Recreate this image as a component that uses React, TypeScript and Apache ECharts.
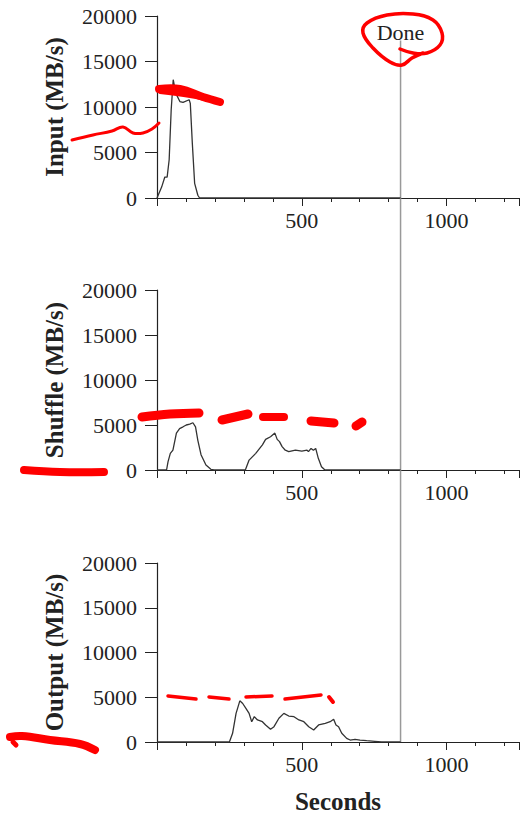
import React, { useEffect, useRef } from "react";
import * as echarts from "echarts";

const X_MAX = 1250;
const X_MINOR_STEP = 100;
const X_MAJOR_STEP = 500;
const X_LABELS = [500, 1000];
const Y_MAX = 20000;
const Y_STEP = 5000;
const DONE_TIME = 841;
const DONE_LABEL = "Done";
const PANEL_NAMES = ["Input (MB/s)", "Shuffle (MB/s)", "Output (MB/s)"];
const X_NAME = "Seconds";

const INPUT_T = [0, 16, 27, 35, 42, 49, 56, 65, 79, 90, 111, 115, 122, 130, 141, 147, 841];
const INPUT_V = [0, 1200, 2300, 2300, 4200, 9700, 13000, 11500, 10600, 10500, 10800, 10400, 6000, 1600, 300, 0, 0];

const SHUFFLE_T = [0, 33, 38, 46, 55, 67, 78, 90, 101, 113, 124, 133, 141, 152, 169, 186, 197, 305, 318, 341, 364, 375, 392, 407, 415, 423, 432, 443, 455, 478, 500, 518, 523, 532, 540, 548, 557, 568, 580, 841];
const SHUFFLE_V = [0, 0, 900, 1850, 2200, 4100, 4600, 4800, 5000, 5100, 5250, 4800, 3300, 1700, 550, 80, 0, 0, 1100, 1850, 2800, 3400, 3700, 4100, 3400, 3150, 2600, 2200, 2050, 2200, 2100, 2200, 2050, 2400, 2200, 2400, 1300, 370, 0, 0];

const OUTPUT_T = [0, 250, 261, 273, 286, 296, 307, 318, 327, 336, 347, 364, 375, 392, 404, 421, 438, 455, 473, 490, 507, 524, 541, 558, 581, 598, 610, 618, 627, 638, 655, 667, 684, 701, 724, 752, 775, 841];
const OUTPUT_V = [0, 0, 970, 3200, 4600, 4300, 3760, 3200, 2270, 2830, 2460, 2270, 1900, 1420, 1710, 2650, 3200, 2900, 2830, 2460, 2270, 1710, 1340, 1900, 2090, 2270, 2540, 1900, 1710, 970, 410, 220, 300, 220, 150, 80, 0, 0];

const SERIES_T = [INPUT_T, SHUFFLE_T, OUTPUT_T];
const SERIES_V = [INPUT_V, SHUFFLE_V, OUTPUT_V];

const FONT = "'Liberation Serif', 'DejaVu Serif', serif";
const INK = "#222";
const RED = "#f00";

const GRIDS = [
  { left: 157, right: 0, top: 16, height: 182 },
  { left: 157, right: 0, top: 290, height: 180 },
  { left: 157, right: 0, top: 563, height: 179 },
];

export default function App() {
  const ref = useRef<HTMLDivElement>(null);
  useEffect(() => {
    document.body.style.margin = "0";
    const chart = echarts.init(ref.current!, null, { renderer: "svg" });
    const xAxes: any[] = [];
    const yAxes: any[] = [];
    const series: any[] = [];
    GRIDS.forEach((_, i) => {
      xAxes.push({
        gridIndex: i,
        type: "value",
        min: 0,
        max: X_MAX,
        interval: X_MINOR_STEP,
        axisLine: { show: true, onZero: false, lineStyle: { color: INK, width: 1.2 } },
        axisTick: { show: true, length: 4, lineStyle: { color: INK, width: 1 } },
        axisLabel: {
          formatter: (v: number) => (X_LABELS.includes(v) ? String(v) : ""),
          fontFamily: FONT,
          fontSize: 22,
          color: INK,
          margin: 11,
        },
        splitLine: { show: false },
        name: i === 2 ? X_NAME : "",
        nameLocation: "middle",
        nameGap: 47,
        nameTextStyle: { fontFamily: FONT, fontSize: 25, fontWeight: "bold", color: INK },
      });
      xAxes.push({
        gridIndex: i,
        type: "value",
        position: "bottom",
        min: 0,
        max: X_MAX,
        interval: X_MAJOR_STEP,
        axisLine: { show: false },
        axisTick: { show: true, length: 8, lineStyle: { color: INK, width: 1 } },
        axisLabel: { show: false },
        splitLine: { show: false },
      });
      yAxes.push({
        gridIndex: i,
        type: "value",
        min: 0,
        max: Y_MAX,
        interval: Y_STEP,
        axisLine: { show: true, lineStyle: { color: INK, width: 1.2 } },
        axisTick: { show: true, length: 12, lineStyle: { color: INK, width: 1 } },
        axisLabel: {
          formatter: (v: number) => String(v),
          fontFamily: FONT,
          fontSize: 22,
          color: INK,
          margin: 20,
        },
        splitLine: { show: false },
        name: PANEL_NAMES[i],
        nameLocation: "middle",
        nameGap: 90,
        nameTextStyle: { fontFamily: FONT, fontSize: 25, fontWeight: "bold", color: INK },
      });
      series.push({
        type: "line",
        xAxisIndex: i * 2,
        yAxisIndex: i,
        data: SERIES_T[i].map((t, k) => [t, SERIES_V[i][k]]),
        showSymbol: false,
        symbol: "none",
        lineStyle: { color: "#333", width: 1.3 },
        z: 3,
      });
    });
    chart.setOption({
      animation: false,
      backgroundColor: "#fff",
      grid: GRIDS,
      xAxis: xAxes,
      yAxis: yAxes,
      series,
    });

    const doneX = chart.convertToPixel({ xAxisIndex: 0 }, DONE_TIME) as number;
    const lineTop = chart.convertToPixel({ yAxisIndex: 0 }, 17300) as number;
    const textY = chart.convertToPixel({ yAxisIndex: 0 }, 18200) as number;
    const lineBottom = chart.convertToPixel({ yAxisIndex: 2 }, 0) as number;

    const stroke = (points: number[][], w: number, smooth = 0.4) => ({
      type: "polyline",
      shape: { points, smooth },
      style: { stroke: RED, lineWidth: w, fill: null, lineCap: "round", lineJoin: "round" },
      z: 10,
    });

    chart.setOption({
      graphic: [
        {
          type: "line",
          shape: { x1: doneX, y1: lineTop, x2: doneX, y2: lineBottom },
          style: { stroke: "#999", lineWidth: 1.5 },
          z: 1,
        },
        {
          type: "text",
          x: doneX,
          y: textY,
          style: { text: DONE_LABEL, font: `22px ${FONT}`, fill: INK, align: "center", verticalAlign: "middle" },
          z: 5,
        },
        // red hand-drawn annotations
        stroke([[72, 140], [93, 135], [112, 131], [123, 127], [133, 133], [143, 133], [152, 129], [159, 123]], 3),
        stroke([[159, 89], [180, 89], [203, 97], [220, 102]], 8),
        stroke([[160, 92], [190, 96], [218, 102]], 4),
        stroke(
          [[400, 49], [413, 53], [427, 53], [440, 45], [442, 33], [433, 20], [413, 14], [387, 15], [367, 23], [363, 33], [373, 48], [390, 62], [402, 65], [412, 58], [423, 53]],
          3.5
        ),
        stroke([[142, 417], [170, 414], [199, 413]], 9),
        stroke([[222, 420], [248, 414]], 9),
        stroke([[263, 417], [284, 417]], 8),
        stroke([[311, 421], [334, 423]], 9),
        stroke([[356, 426], [362, 422]], 9),
        stroke([[24, 470], [60, 472], [104, 472]], 8),
        stroke([[168, 696], [196, 699]], 3.5),
        stroke([[209, 697], [229, 699]], 3.5),
        stroke([[246, 697], [272, 696]], 3.5),
        stroke([[285, 699], [321, 695]], 3.5),
        stroke([[329, 697], [333, 702]], 4),
        stroke([[10, 737], [22, 736], [50, 740], [80, 744], [95, 750]], 8),
        stroke([[13, 742], [16, 745]], 5),
      ],
    });

    return () => chart.dispose();
  }, []);
  return <div ref={ref} style={{ width: 522, height: 816 }} />;
}
